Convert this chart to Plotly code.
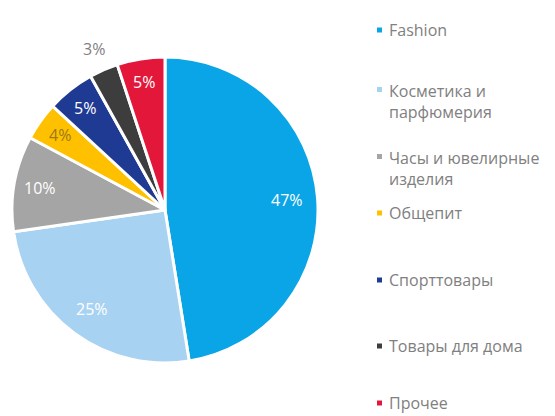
import math
import plotly.graph_objects as go

categories = ["Fashion", "Косметика и<br>парфюмерия", "Часы и ювелирные<br>изделия",
              "Общепит", "Спорттовары", "Товары для дома", "Прочее"]
values = [47, 25, 10, 4, 5, 3, 5]
labels_text = ["47%", "25%", "10%", "4%", "5%", "3%", "5%"]
colors = ["#0AA5E6", "#A7D2F2", "#A5A5A5", "#FFC000", "#1F3A93", "#3D3D3D", "#E3173A"]

# label styling (layout, not data)
label_r = [0.80, 0.80, 0.83, 0.84, 0.85, 1.15, 0.85]
label_col = ["white", "white", "white", "#9A7A1A", "white", "#7F7F7F", "white"]
legend_y = [30, 101, 168, 213, 280, 346, 403]

W, H = 555, 416
OFF = 8  # page body margin
CX, CY, R = 165, 210, 153
FONT = "Open Sans"

fig = go.Figure()
fig.add_trace(go.Pie(
    labels=categories, values=values, text=labels_text,
    textinfo="none",
    marker=dict(colors=colors, line=dict(color="white", width=3)),
    sort=False, direction="clockwise", rotation=0,
    domain=dict(x=[(CX - R - OFF) / W, (CX + R - OFF) / W],
                y=[1 - (CY + R - OFF) / H, 1 - (CY - R - OFF) / H]),
    showlegend=False, hoverinfo="label+percent",
))

total = sum(values)
cum = 0
for v, t, rr, col in zip(values, labels_text, label_r, label_col):
    mid = (cum + v / 2) / total * 2 * math.pi
    cum += v
    px = CX + rr * R * math.sin(mid) - OFF
    py = CY - rr * R * math.cos(mid) - OFF
    fig.add_annotation(x=px / W, y=1 - py / H, xref="paper", yref="paper",
                       text=t, showarrow=False, xanchor="center", yanchor="middle",
                       font=dict(family=FONT, size=16, color=col))

for i, (cat, col) in enumerate(zip(categories, colors)):
    nlines = cat.count("<br>") + 1
    yc = legend_y[i] - OFF
    first = yc - (nlines - 1) * 11.5
    fig.add_shape(type="rect", xref="paper", yref="paper",
                  x0=(377 - OFF) / W, x1=(382 - OFF) / W,
                  y0=1 - (first + 2.5) / H, y1=1 - (first - 2.5) / H,
                  fillcolor=col, line=dict(width=0))
    fig.add_annotation(x=(387 - OFF) / W, y=1 - yc / H, xref="paper", yref="paper",
                       text=cat, showarrow=False, xanchor="left", yanchor="middle",
                       align="left", font=dict(family=FONT, size=16, color="#808080"))

fig.update_layout(width=W, height=H, margin=dict(l=0, r=0, t=0, b=0),
                  paper_bgcolor="white", plot_bgcolor="white")
fig.write_html("out.html")
